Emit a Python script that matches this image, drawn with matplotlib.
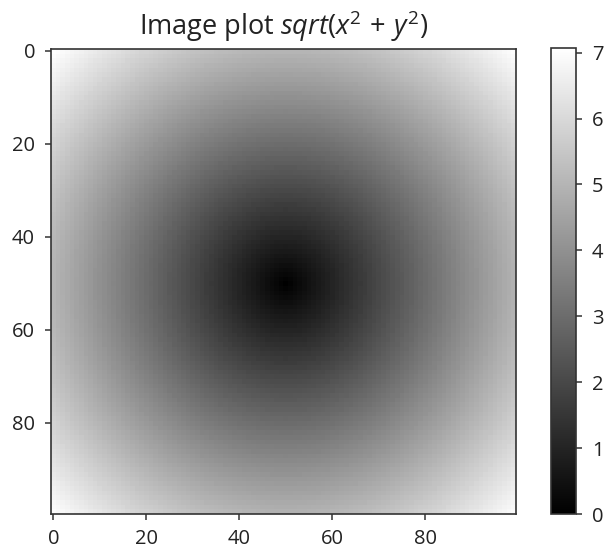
import numpy as np
import matplotlib
matplotlib.use("Agg")
import matplotlib.pyplot as plt

plt.rcParams["font.family"] = ["Open Sans", "DejaVu Sans"]
plt.rcParams["mathtext.fontset"] = "custom"
plt.rcParams["mathtext.it"] = "Open Sans:italic"
plt.rcParams["mathtext.rm"] = "Open Sans"

# grid of sample points along each axis
points = np.arange(-5, 5, 0.1)
title = r"Image plot $sqrt(x^2\,+\,y^2)$"
cbar_ticks = [0, 1, 2, 3, 4, 5, 6, 7]
x_ticks = [0, 20, 40, 60, 80]
y_ticks = [0, 20, 40, 60, 80]


def main():
    xs, ys = np.meshgrid(points, points)
    z = np.sqrt(xs ** 2 + ys ** 2)

    fig = plt.figure(figsize=(6.06, 5.51), dpi=100)
    ax = fig.add_axes([51 / 606, 37 / 551, 465 / 606, 466 / 551])
    cax = fig.add_axes([551 / 606, 37 / 551, 25 / 606, 466 / 551])

    im = ax.imshow(z, cmap=plt.cm.gray)
    cb = fig.colorbar(im, cax=cax)
    cb.set_ticks(cbar_ticks)

    ax.set_xticks(x_ticks)
    ax.set_yticks(y_ticks)
    ax.set_title(title, fontsize=19.5, pad=10, color="#222222")
    for a in (ax, cax):
        a.tick_params(labelsize=14.5, length=4.5, width=1.1, pad=7,
                      color="#333333", labelcolor="#222222")
        for s in a.spines.values():
            s.set_color("#333333")
            s.set_linewidth(1.2)

    fig.savefig("out.png", dpi=100)


if __name__ == "__main__":
    main()
